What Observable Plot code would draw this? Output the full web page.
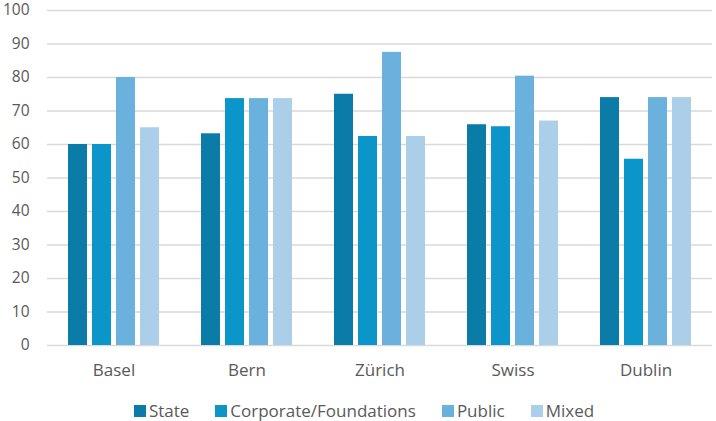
<!DOCTYPE html>
<html>
<head>
<meta charset="utf-8">
<script src="https://cdn.jsdelivr.net/npm/d3@7"></script>
<script src="https://cdn.jsdelivr.net/npm/@observablehq/plot@0.6"></script>
<style>
  html, body { margin: 0; padding: 0; background: #fff; }
  body { width: 716px; height: 421px; overflow: hidden; font-family: "Open Sans", sans-serif; }
  #chart svg { overflow: visible; }
  #legend { display: flex; justify-content: center; align-items: center; gap: 26px; box-sizing: border-box; height: 29px; padding-top: 9px; padding-left: 12px; font-size: 17px; line-height: 1.1; color: #595959; }
  .item { display: flex; align-items: center; gap: 3px; }
  .sw { width: 12px; height: 12px; display: inline-block; }
</style>
</head>
<body>
<div id="chart"></div>
<div id="legend"></div>
<script>
const cities = ["Basel", "Bern", "Zürich", "Swiss", "Dublin"];
const types = ["State", "Corporate/Foundations", "Public", "Mixed"];
const colors = ["#0b7ba8", "#0b95c9", "#6bb1de", "#accfe9"];
const stateVals = [60, 63.2, 75.0, 65.9, 74.0];
const corporateVals = [60, 73.7, 62.4, 65.3, 55.6];
const publicVals = [80, 73.7, 87.5, 80.4, 74.0];
const mixedVals = [65, 73.7, 62.4, 67.0, 74.0];
const yTicks = [0, 10, 20, 30, 40, 50, 60, 70, 80, 90, 100];

const series = [stateVals, corporateVals, publicVals, mixedVals];
const data = [];
cities.forEach((c, i) => types.forEach((t, j) => data.push({city: c, type: t, value: series[j][i]})));

const plot = Plot.plot({
  width: 716,
  height: 392,
  marginTop: 10,
  marginBottom: 47,
  marginLeft: 46,
  marginRight: 4,
  style: {fontFamily: "Open Sans, sans-serif", color: "#595959", overflow: "visible"},
  fx: {domain: cities, padding: 0, label: null},
  x: {domain: types, paddingInner: 0.2, paddingOuter: 0.84, axis: null},
  y: {domain: [0, 100], label: null},
  color: {domain: types, range: colors},
  marks: [
    Plot.ruleY(yTicks, {stroke: "#d9d9d9", strokeWidth: 1.6}),
    Plot.barY(data, {fx: "city", x: "type", y: "value", fill: "type"}),
    Plot.axisY(yTicks, {tickSize: 0, tickPadding: 18, fontSize: 15.5, fill: "#595959", label: null}),
    Plot.axisFx({anchor: "bottom", tickSize: 0, tickPadding: 18, fontSize: 17, fill: "#595959", label: null})
  ]
});
document.getElementById("chart").appendChild(plot);

const legend = document.getElementById("legend");
types.forEach((t, i) => {
  const it = document.createElement("div");
  it.className = "item";
  const sw = document.createElement("span");
  sw.className = "sw";
  sw.style.background = colors[i];
  const tx = document.createElement("span");
  tx.textContent = t;
  it.appendChild(sw); it.appendChild(tx);
  legend.appendChild(it);
});
</script>
</body>
</html>
